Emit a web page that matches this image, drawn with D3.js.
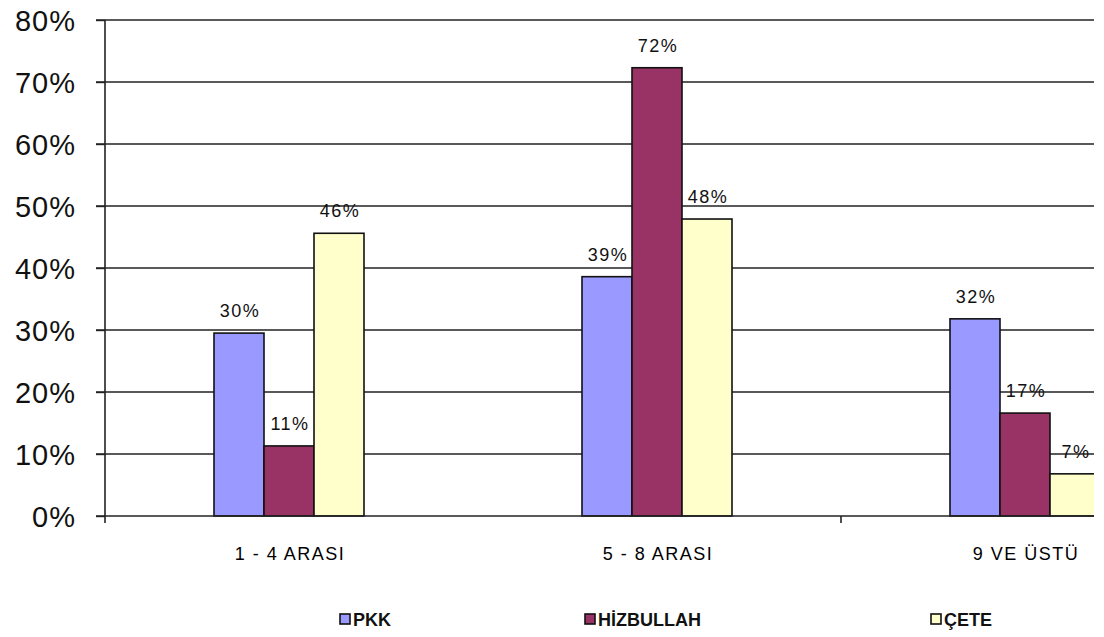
<!DOCTYPE html>
<html><head><meta charset="utf-8">
<script src="https://cdn.jsdelivr.net/npm/d3@7"></script>
<style>body{margin:0;background:#fff;} svg{display:block;}</style>
</head><body>
<svg id="c" width="1104" height="637"></svg>
<script>
const categories = ["1 - 4 ARASI", "5 - 8 ARASI", "9 VE ÜSTÜ"];
const seriesNames = ["PKK", "HİZBULLAH", "ÇETE"];
const pkk = [29.5, 38.6, 31.8];
const hizbullah = [11.3, 72.3, 16.6];
const cete = [45.6, 47.9, 6.8];
const yTicks = [0, 10, 20, 30, 40, 50, 60, 70, 80];
const colors = ["#9999FF", "#993366", "#FFFFCC"];

const values = [pkk, hizbullah, cete];
const svg = d3.select("#c");
const x0 = 105, band = 368, y0 = 516, y1 = 20, clipRight = 1094;

const x = d3.scaleBand().domain(categories).range([x0, x0 + band * categories.length]).paddingInner(0).paddingOuter(0);
const y = d3.scaleLinear().domain([0, 80]).range([y0, y1]);
const groupW = 150;
const xs = d3.scaleBand().domain(seriesNames).range([0, groupW]);

svg.append("defs").append("clipPath").attr("id", "plotclip")
  .append("rect").attr("x", 0).attr("y", 0).attr("width", clipRight).attr("height", 637);

const plot = svg.append("g").attr("clip-path", "url(#plotclip)");

// gridlines
plot.selectAll("line.grid").data(yTicks.filter(d => d > 0)).join("line")
  .attr("x1", 96).attr("x2", 1200)
  .attr("y1", d => y(d)).attr("y2", d => y(d))
  .attr("stroke", "#222").attr("stroke-width", 1.4);

// bars
const groups = plot.selectAll("g.grp").data(categories).join("g")
  .attr("transform", c => `translate(${x(c) + band / 2 - groupW / 2},0)`);

seriesNames.forEach((s, si) => {
  groups.append("rect")
    .attr("x", xs(s))
    .attr("width", xs.bandwidth())
    .attr("y", (c, ci) => y(values[si][ci]))
    .attr("height", (c, ci) => y(0) - y(values[si][ci]))
    .attr("fill", colors[si])
    .attr("stroke", "#111").attr("stroke-width", 1.6);
});

// data labels
seriesNames.forEach((s, si) => {
  groups.append("text")
    .attr("x", xs(s) + xs.bandwidth() / 2 + 1)
    .attr("y", (c, ci) => y(values[si][ci]) - 16)
    .attr("text-anchor", "middle")
    .attr("font-family", "Liberation Sans, Arial, sans-serif")
    .attr("font-size", 18).attr("letter-spacing", 1.5)
    .attr("fill", "#111")
    .text((c, ci) => Math.round(values[si][ci]) + "%");
});

// x axis
const xAxis = d3.axisBottom(x).tickSize(0).tickFormat("");
const gx = plot.append("g").attr("transform", `translate(0,${y0})`).call(xAxis);
gx.select(".domain").attr("stroke", "#222").attr("stroke-width", 1.4).attr("d", `M96,0H1200`);
// boundary tick (only the second one is visible in the reference)
plot.selectAll("line.xt").data(categories.slice(2)).join("line")
  .attr("x1", c => x(c)).attr("x2", c => x(c))
  .attr("y1", y0).attr("y2", y0 + 7)
  .attr("stroke", "#222").attr("stroke-width", 1.6);

// category labels
plot.selectAll("text.cat").data(categories).join("text")
  .attr("x", c => x(c) + band / 2 + 1)
  .attr("y", 560)
  .attr("text-anchor", "middle")
  .attr("font-family", "Liberation Sans, Arial, sans-serif")
  .attr("font-size", 18).attr("letter-spacing", 1.5)
  .attr("fill", "#000")
  .text(c => c);

// y axis
const yAxis = d3.axisLeft(y).tickValues(yTicks).tickSize(9).tickPadding(20).tickFormat(d => d + "%");
const gy = svg.append("g").attr("transform", `translate(${x0},0)`).call(yAxis);
gy.select(".domain").attr("stroke", "#222").attr("stroke-width", 1.6).attr("d", `M0,${y1}V${y0 + 7}`);
gy.selectAll(".tick line").attr("stroke", "#222").attr("stroke-width", 1.4);
gy.selectAll(".tick text")
  .attr("font-family", "Liberation Sans, Arial, sans-serif")
  .attr("font-size", 29).attr("letter-spacing", 1)
  .attr("fill", "#111").attr("dy", "0.36em");

// legend
const legX = [340, 585, 931];
const leg = svg.selectAll("g.leg").data(seriesNames).join("g")
  .attr("transform", (d, i) => `translate(${legX[i]},614)`);
leg.append("rect").attr("width", 10).attr("height", 10)
  .attr("fill", (d, i) => colors[i]).attr("stroke", "#111").attr("stroke-width", 1.6);
leg.append("text").attr("x", 13).attr("y", 12)
  .attr("font-family", "Liberation Sans, Arial, sans-serif")
  .attr("font-size", 18).attr("font-weight", "bold")
  .attr("fill", "#111")
  .text(d => d);
</script>
</body></html>
